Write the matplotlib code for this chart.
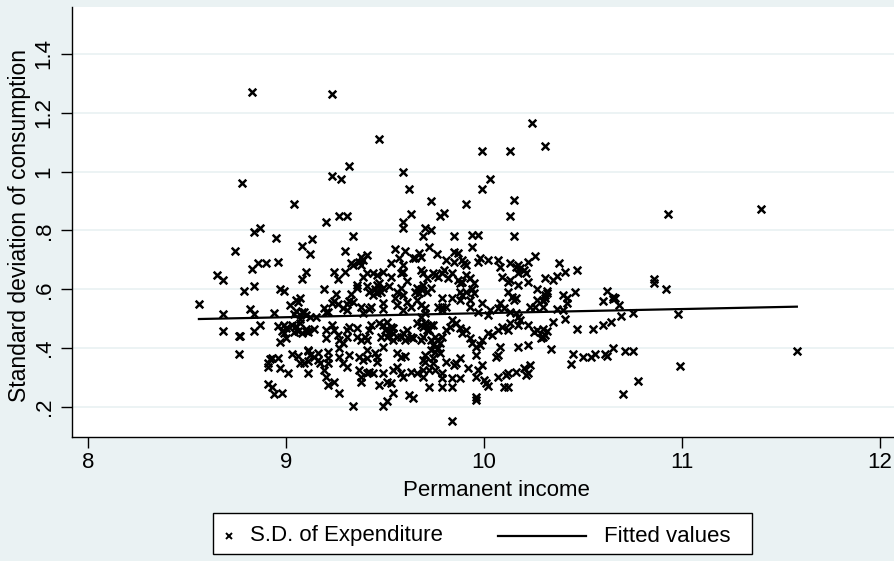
import matplotlib
matplotlib.use('Agg')
import matplotlib.pyplot as plt
from matplotlib.lines import Line2D
from matplotlib.patches import Rectangle
import numpy as np

# Stata s2color look
plt.rcParams['font.family'] = ['Liberation Sans', 'DejaVu Sans']
bg = '#eaf2f3'

# scatter points (permanent income, s.d. of consumption)
pts_top = [
    (8.83, 1.27), (9.23, 1.264), (9.47, 1.11), (9.32, 1.02), (9.23, 0.985), (9.28, 0.975),
    (8.78, 0.96), (9.04, 0.89), (9.20, 0.83), (9.27, 0.85), (9.31, 0.85), (8.84, 0.795),
    (8.87, 0.81), (8.95, 0.775), (9.13, 0.77), (9.34, 0.78), (9.59, 1.0), (10.24, 1.165),
    (10.31, 1.087), (9.99, 1.07), (10.13, 1.07), (10.03, 0.975), (9.99, 0.94), (9.62, 0.94),
    (9.73, 0.90), (9.91, 0.89), (10.15, 0.905), (10.13, 0.85), (9.63, 0.855), (9.78, 0.85),
    (9.80, 0.86), (9.59, 0.83), (9.59, 0.81), (9.70, 0.81), (9.73, 0.80), (9.69, 0.78),
    (9.85, 0.78), (9.94, 0.785), (9.97, 0.785), (10.15, 0.78),
]
pts_right = [
    (10.93, 0.855), (11.40, 0.873), (10.86, 0.635), (10.86, 0.62), (10.92, 0.60), (10.62, 0.595),
    (10.60, 0.56), (10.65, 0.575), (10.66, 0.57), (10.65, 0.567), (10.68, 0.547), (10.69, 0.51),
    (10.75, 0.52), (10.98, 0.516), (10.60, 0.48), (10.64, 0.49), (10.65, 0.40), (10.61, 0.38),
    (10.62, 0.375), (10.71, 0.39), (10.75, 0.39), (11.58, 0.39), (10.99, 0.34), (10.78, 0.29),
    (10.70, 0.245),
    (10.38, 0.69), (10.31, 0.64), (10.35, 0.63), (10.37, 0.645), (10.41, 0.66), (10.47, 0.665),
    (10.32, 0.595), (10.31, 0.58), (10.30, 0.565), (10.30, 0.56), (10.30, 0.54), (10.40, 0.58),
    (10.42, 0.57), (10.42, 0.555), (10.46, 0.59), (10.37, 0.533), (10.40, 0.53), (10.35, 0.49),
    (10.41, 0.50), (10.47, 0.465), (10.55, 0.465), (10.30, 0.465), (10.32, 0.458), (10.30, 0.438),
    (10.29, 0.435), (10.31, 0.445), (10.34, 0.397), (10.45, 0.38), (10.44, 0.346), (10.50, 0.37),
    (10.54, 0.37), (10.56, 0.38),
]
pts_left = [
    (9.08, 0.747), (9.12, 0.72), (8.74, 0.73), (8.83, 0.67), (8.86, 0.69), (8.90, 0.69),
    (8.96, 0.693), (8.65, 0.65), (8.68, 0.63), (9.10, 0.66), (9.08, 0.635), (8.79, 0.595),
    (8.84, 0.61), (8.97, 0.60), (8.99, 0.595), (8.56, 0.55), (8.68, 0.515), (8.82, 0.533),
    (8.84, 0.515), (8.94, 0.52), (9.02, 0.547), (9.05, 0.565), (9.07, 0.57), (9.06, 0.557),
    (9.05, 0.526), (9.09, 0.523), (9.04, 0.516), (9.07, 0.50), (8.68, 0.46), (8.76, 0.44),
    (8.77, 0.44), (8.84, 0.458), (8.87, 0.48), (8.96, 0.475), (8.99, 0.48), (9.00, 0.47),
    (8.98, 0.46), (8.99, 0.45), (8.97, 0.42), (9.00, 0.435), (9.03, 0.48), (9.05, 0.475),
    (9.07, 0.485), (9.04, 0.455), (9.06, 0.46), (9.10, 0.46), (8.76, 0.38), (8.92, 0.363),
    (8.93, 0.367), (8.91, 0.336), (8.91, 0.35), (8.96, 0.367), (8.97, 0.333), (9.01, 0.316),
    (9.03, 0.38), (9.06, 0.373), (9.07, 0.35), (9.09, 0.35), (9.11, 0.356), (9.11, 0.316),
    (9.11, 0.39), (8.91, 0.278), (8.93, 0.268), (8.94, 0.245), (8.98, 0.248),
]
pts_mid = [
    (9.30, 0.73), (9.24, 0.66), (9.30, 0.66), (9.26, 0.635), (9.34, 0.683), (9.37, 0.693),
    (9.38, 0.71), (9.41, 0.717), (9.39, 0.70), (9.38, 0.683), (9.33, 0.69), (9.39, 0.642),
    (9.55, 0.737), (9.60, 0.73), (9.67, 0.723), (9.64, 0.706), (9.65, 0.706), (9.68, 0.71),
    (9.57, 0.706), (9.53, 0.69), (9.59, 0.683), (9.59, 0.66), (9.58, 0.656), (9.61, 0.628),
    (9.53, 0.642), (9.68, 0.666), (9.69, 0.656), (9.71, 0.64), (9.19, 0.60), (9.36, 0.615),
    (9.36, 0.605), (9.41, 0.61), (9.42, 0.59), (9.45, 0.60), (9.46, 0.615), (9.47, 0.62),
    (9.46, 0.587), (9.48, 0.59), (9.44, 0.58), (9.52, 0.61), (9.49, 0.605), (9.56, 0.59),
    (9.58, 0.605), (9.55, 0.57), (9.59, 0.58), (9.66, 0.605), (9.68, 0.60), (9.67, 0.587),
    (9.65, 0.59), (9.69, 0.615), (9.71, 0.59), (9.25, 0.585), (9.24, 0.56), (9.26, 0.55),
    (9.23, 0.553), (9.33, 0.585), (9.32, 0.56), (9.34, 0.557), (9.31, 0.55), (9.43, 0.54),
    (9.49, 0.553), (9.49, 0.533), (9.56, 0.547), (9.61, 0.557), (9.63, 0.54), (9.59, 0.53),
    (9.66, 0.563), (9.68, 0.547), (9.70, 0.537), (9.19, 0.537), (9.20, 0.523), (9.21, 0.523),
    (9.29, 0.537), (9.31, 0.53), (9.38, 0.54), (9.39, 0.52), (9.42, 0.533), (9.08, 0.523),
    (9.10, 0.513), (9.12, 0.506), (9.15, 0.506), (9.10, 0.465), (9.11, 0.455), (9.14, 0.465),
    (9.08, 0.45), (9.20, 0.462), (9.20, 0.435), (9.23, 0.48), (9.24, 0.462), (9.26, 0.445),
    (9.27, 0.428), (9.29, 0.418), (9.31, 0.438), (9.31, 0.462), (9.32, 0.472), (9.36, 0.468),
    (9.36, 0.438), (9.38, 0.428), (9.40, 0.438), (9.41, 0.428), (9.42, 0.462), (9.43, 0.48),
    (9.47, 0.485), (9.49, 0.48), (9.51, 0.49), (9.53, 0.472), (9.50, 0.462), (9.52, 0.455),
    (9.54, 0.45), (9.48, 0.438), (9.54, 0.468), (9.51, 0.438), (9.54, 0.428), (9.56, 0.438),
    (9.58, 0.438), (9.59, 0.45), (9.61, 0.462), (9.60, 0.428), (9.63, 0.438), (9.64, 0.435),
    (9.68, 0.428), (9.69, 0.438), (9.71, 0.462), (9.66, 0.485), (9.68, 0.48), (9.70, 0.485),
    (9.11, 0.393), (9.12, 0.377), (9.14, 0.37), (9.16, 0.36), (9.17, 0.35), (9.16, 0.383),
    (9.21, 0.387), (9.21, 0.367), (9.21, 0.35), (9.19, 0.326), (9.20, 0.302), (9.27, 0.40),
    (9.27, 0.37), (9.29, 0.35), (9.31, 0.336), (9.32, 0.377), (9.37, 0.37), (9.39, 0.36),
    (9.41, 0.367), (9.41, 0.393), (9.45, 0.383), (9.46, 0.37), (9.46, 0.353), (9.49, 0.403),
    (9.37, 0.326), (9.38, 0.302), (9.41, 0.316), (9.42, 0.32), (9.44, 0.316), (9.49, 0.316),
    (9.51, 0.285), (9.47, 0.275), (9.54, 0.326), (9.56, 0.336), (9.58, 0.316), (9.59, 0.302),
    (9.63, 0.32), (9.66, 0.316), (9.69, 0.326), (9.69, 0.302), (9.72, 0.326), (9.70, 0.377),
    (9.69, 0.36), (9.58, 0.37), (9.60, 0.372), (9.56, 0.383), (9.21, 0.275), (9.24, 0.285),
    (9.27, 0.248), (9.34, 0.203), (9.49, 0.203), (9.51, 0.22), (9.54, 0.248), (9.62, 0.24),
    (9.64, 0.23), (9.72, 0.268), (9.38, 0.285), (9.53, 0.282), (9.41, 0.655), (9.44, 0.655),
    (9.46, 0.65), (9.49, 0.66),
]
pts_center = [
    (9.94, 0.744), (9.72, 0.744), (9.76, 0.72), (9.81, 0.70), (9.85, 0.693), (9.85, 0.727),
    (9.87, 0.723), (9.89, 0.70), (9.90, 0.69), (9.91, 0.683), (9.97, 0.693), (9.98, 0.706),
    (10.02, 0.70), (10.07, 0.70), (10.08, 0.676), (10.13, 0.69), (10.16, 0.676), (10.17, 0.683),
    (10.18, 0.672), (10.20, 0.666), (10.22, 0.693), (10.21, 0.656), (10.17, 0.656), (10.26, 0.713),
    (9.74, 0.655), (9.75, 0.65), (9.77, 0.642), (9.79, 0.655), (9.80, 0.666), (9.82, 0.638),
    (9.84, 0.655), (9.87, 0.632), (9.88, 0.62), (9.89, 0.625), (9.91, 0.65), (9.93, 0.638),
    (9.95, 0.62), (10.09, 0.642), (10.12, 0.625), (10.13, 0.632), (10.17, 0.615), (10.22, 0.625),
    (9.73, 0.605), (9.88, 0.59), (9.89, 0.58), (9.94, 0.60), (9.95, 0.587), (9.91, 0.59),
    (9.88, 0.565), (9.93, 0.565), (9.79, 0.57), (9.84, 0.57), (9.99, 0.553), (10.12, 0.59),
    (10.14, 0.573), (10.15, 0.563), (10.16, 0.57), (10.27, 0.60), (10.32, 0.587), (10.27, 0.563),
    (10.31, 0.57), (9.77, 0.54), (9.79, 0.54), (9.81, 0.54), (9.79, 0.53), (9.93, 0.54),
    (9.97, 0.523), (10.03, 0.53), (10.02, 0.513), (10.07, 0.537), (10.08, 0.553), (10.10, 0.537),
    (10.13, 0.523), (10.16, 0.52), (10.17, 0.506), (10.23, 0.54), (10.26, 0.54), (9.68, 0.506),
    (9.70, 0.52), (9.69, 0.472), (9.71, 0.48), (9.73, 0.48), (9.74, 0.48), (9.72, 0.462),
    (9.73, 0.428), (9.75, 0.438), (9.76, 0.428), (9.78, 0.418), (9.74, 0.41), (9.77, 0.40),
    (9.75, 0.387), (9.78, 0.383), (9.73, 0.393), (9.74, 0.367), (9.79, 0.438), (9.81, 0.462),
    (9.83, 0.472), (9.84, 0.496), (9.86, 0.485), (9.88, 0.468), (9.89, 0.45), (9.91, 0.462),
    (9.93, 0.435), (9.94, 0.418), (9.96, 0.404), (9.98, 0.41), (9.99, 0.428), (10.02, 0.45),
    (10.04, 0.445), (10.07, 0.462), (10.09, 0.472), (10.12, 0.462), (10.13, 0.485), (10.17, 0.48),
    (10.18, 0.496), (10.22, 0.48), (10.25, 0.455), (10.27, 0.462), (10.17, 0.404), (10.22, 0.41),
    (10.08, 0.404), (10.07, 0.377), (10.06, 0.37), (9.70, 0.353), (9.74, 0.35), (9.75, 0.326),
    (9.79, 0.316), (9.79, 0.30), (9.79, 0.268), (9.81, 0.353), (9.84, 0.30), (9.85, 0.343),
    (9.86, 0.35), (9.88, 0.367), (9.88, 0.30), (9.84, 0.268), (9.92, 0.333), (9.96, 0.302),
    (9.97, 0.326), (9.96, 0.377), (9.99, 0.343), (10.00, 0.292), (10.01, 0.282), (10.02, 0.272),
    (10.07, 0.302), (10.10, 0.268), (10.12, 0.268), (10.11, 0.31), (10.12, 0.316), (10.16, 0.32),
    (10.20, 0.333), (10.22, 0.316), (10.21, 0.31), (10.23, 0.343), (9.96, 0.234), (9.96, 0.224),
    (9.84, 0.152),
]

# fitted line end points
fit_x = [8.56, 11.58]
fit_y = [0.499, 0.541]

xticks = [8, 9, 10, 11, 12]
yticks = [0.2, 0.4, 0.6, 0.8, 1.0, 1.2, 1.4]
ytick_labels = ['.2', '.4', '.6', '.8', '1', '1.2', '1.4']

pts = np.array(pts_top + pts_right + pts_left + pts_mid + pts_center)
inc, sdc = pts[:, 0], pts[:, 1]

W, H = 895, 561
fig = plt.figure(figsize=(W / 100, H / 100), dpi=100, facecolor=bg)
ax = fig.add_axes([72 / W, 1 - 437 / H, (920 - 72) / W, 430 / H])
ax.set_facecolor('white')

ax.scatter(inc, sdc, marker='x', s=30, c='black', linewidths=1.8, zorder=3)
ax.plot(fit_x, fit_y, color='black', lw=1.6, zorder=4)

ax.set_xlim(7.919, 12.202)
ax.set_ylim(0.098, 1.5596)
ax.set_xticks(xticks)
ax.set_yticks(yticks)
ax.set_yticklabels(ytick_labels, rotation=90, va='center')
ax.tick_params(axis='both', length=8, width=1, labelsize=16, color='black')
ax.tick_params(axis='y', pad=4.5)
ax.tick_params(axis='x', pad=2.5)
ax.grid(axis='y', color=bg, lw=1.3)
ax.set_axisbelow(True)
for s in ['top', 'right']:
    ax.spines[s].set_visible(False)
for s in ['left', 'bottom']:
    ax.spines[s].set_linewidth(1)

ax.set_xlabel('Permanent income', fontsize=16, labelpad=5)
fig.text(19.5 / W, 1 - 226 / H, 'Standard deviation of consumption', fontsize=16.5,
         rotation=90, ha='center', va='center')

# legend box (Stata style, below the plot)
fig.patches.append(Rectangle((213 / W, 1 - 554 / H), 539 / W, 41 / H, transform=fig.transFigure,
                             facecolor='white', edgecolor='black', lw=1))
ly = 1 - 536 / H
fig.lines.append(Line2D([229 / W], [ly], transform=fig.transFigure, marker='x', ms=4.5,
                        mew=1.4, color='black', ls='none'))
fig.text(250 / W, ly, 'S.D. of Expenditure', fontsize=16, va='center', ha='left')
fig.lines.append(Line2D([498 / W, 586 / W], [ly, ly], transform=fig.transFigure,
                        color='black', lw=1.6))
fig.text(604 / W, ly, 'Fitted values', fontsize=16, va='center', ha='left')

fig.savefig('out.png', dpi=100, facecolor=bg)
